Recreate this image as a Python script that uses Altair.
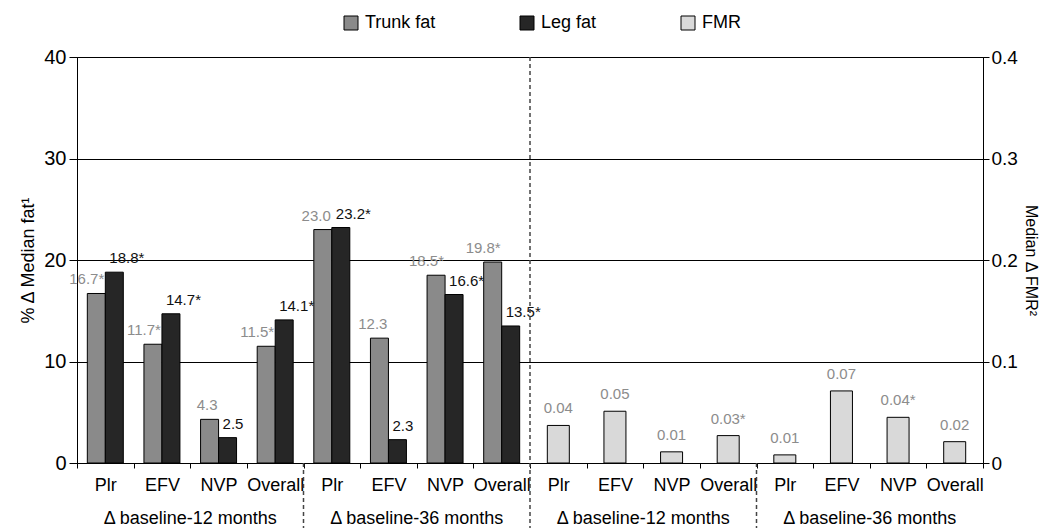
import json
import altair as alt
import pandas as pd

# ---------------- data ----------------
drugs = ["Plr", "EFV", "NVP", "Overall"]
periods = ["\u0394 baseline-12 months", "\u0394 baseline-36 months",
           "\u0394 baseline-12 months", "\u0394 baseline-36 months"]
series_names = ["Trunk fat", "Leg fat", "FMR"]
series_colors = ["#8a8a8a", "#262626", "#d9d9d9"]

trunk_vals = [16.7, 11.7, 4.3, 11.5, 23.0, 12.3, 18.5, 19.8]
trunk_labels = ["16.7*", "11.7*", "4.3", "11.5*", "23.0", "12.3", "18.5*", "19.8*"]
leg_vals = [18.8, 14.7, 2.5, 14.1, 23.2, 2.3, 16.6, 13.5]
leg_labels = ["18.8*", "14.7*", "2.5", "14.1*", "23.2*", "2.3", "16.6*", "13.5*"]
fmr_vals = [0.037, 0.051, 0.011, 0.027, 0.008, 0.071, 0.045, 0.021]
fmr_labels = ["0.04", "0.05", "0.01", "0.03*", "0.01", "0.07", "0.04*", "0.02"]

n_cat = 16
fat_rows = []
for i in range(8):
    fat_rows.append({"cat": i, "series": "Trunk fat", "value": trunk_vals[i], "label": trunk_labels[i]})
    fat_rows.append({"cat": i, "series": "Leg fat", "value": leg_vals[i], "label": leg_labels[i]})
fat_df = pd.DataFrame(fat_rows)
fmr_df = pd.DataFrame({"cat": list(range(8, 16)), "series": ["FMR"] * 8,
                       "value": fmr_vals, "label": fmr_labels})
group_df = pd.DataFrame({"cat": [1, 5, 9, 13], "text": periods})
sep_full_df = pd.DataFrame({"cat": [8]})
sep_low_df = pd.DataFrame({"cat": [4, 12]})

FONT = "Liberation Sans"
W, H = 906, 406

# ---------------- scales / axes ----------------
x_scale = alt.Scale(domain=list(range(n_cat)), paddingInner=0, paddingOuter=0)
x_axis = alt.Axis(title=None, labelExpr=f"{json.dumps(drugs)}[datum.value % 4]",
                  tickBand="extent", tickSize=5, labelFontSize=18, labelPadding=8,
                  labelAngle=0, domainColor="black", tickColor="black", labelColor="black")


def X(**kw):
    return alt.X("cat:O", scale=x_scale, axis=x_axis, **kw)


color = alt.Color("series:N", scale=alt.Scale(domain=series_names, range=series_colors),
                  legend=alt.Legend(title=None, orient="none", legendX=265, legendY=-43,
                                    direction="horizontal", symbolType="square",
                                    symbolSize=196, symbolStrokeColor="black",
                                    symbolStrokeWidth=1, labelFontSize=18,
                                    columnPadding=82, labelOffset=5, labelColor="black"))

axL = alt.Axis(values=[0, 10, 20, 30, 40], title="% \u0394 Median fat\u00b9", grid=True,
               gridColor="black", gridOpacity=1, labelFontSize=20, tickSize=8,
               titleFontSize=18, titlePadding=6, labelPadding=3, orient="left")
yL = alt.Y("value:Q", scale=alt.Scale(domain=[0, 40], nice=False), axis=axL)

axR = alt.Axis(values=[0, 0.1, 0.2, 0.3, 0.4], format=".1~f", title="Median \u0394 FMR\u00b2",
               titleAngle=90, grid=False, labelFontSize=19, tickSize=6,
               titleFontSize=16, titlePadding=5, labelPadding=2, orient="right")
yR = alt.Y("value:Q", scale=alt.Scale(domain=[0, 0.4], nice=False), axis=axR)

xoff = alt.XOffset("series:N", scale=alt.Scale(domain=["Trunk fat", "Leg fat"],
                                                paddingOuter=0.573, paddingInner=0))

# ---------------- layers ----------------
fat_bars = alt.Chart(fat_df).mark_bar(stroke="black", strokeWidth=1).encode(
    x=X(), xOffset=xoff, y=yL, color=color)

trunk_text = alt.Chart(fat_df).transform_filter("datum.series == 'Trunk fat'").mark_text(
    align="right", baseline="bottom", dx=8, dy=-6, fontSize=15, color="#8c8c8c"
).encode(x=X(), xOffset=xoff, y=yL, text="label:N")

leg_text = alt.Chart(fat_df).transform_filter("datum.series == 'Leg fat'").mark_text(
    align="left", baseline="bottom", dx=-5, dy=-6, fontSize=15, color="#111111"
).encode(x=X(), xOffset=xoff, y=yL, text="label:N")

fat_group = alt.layer(fat_bars, trunk_text, leg_text)

fmr_bars = alt.Chart(fmr_df).mark_bar(width=22, stroke="black", strokeWidth=1).encode(
    x=X(), y=yR, color=color)
fmr_text = alt.Chart(fmr_df).mark_text(
    align="center", baseline="bottom", dy=-9, fontSize=15, color="#8c8c8c"
).encode(x=X(), y=yR, text="label:N")
fmr_group = alt.layer(fmr_bars, fmr_text)

group_text = alt.Chart(group_df).mark_text(
    align="center", baseline="middle", fontSize=18, color="black"
).encode(x=X(bandPosition=1), y=alt.value(H + 56), text="text:N")

sep_full = alt.Chart(sep_full_df).mark_rule(strokeDash=[4, 3], color="#444444", strokeWidth=1.5).encode(
    x=X(bandPosition=0), y=alt.value(0), y2=alt.value(H + 67))
sep_low = alt.Chart(sep_low_df).mark_rule(strokeDash=[4, 3], color="#444444", strokeWidth=1.5).encode(
    x=X(bandPosition=0), y=alt.value(H), y2=alt.value(H + 67))

chart = alt.layer(fat_group, fmr_group, group_text, sep_full, sep_low).resolve_scale(
    y="independent"
).properties(
    width=W, height=H,
    autosize=alt.AutoSizeParams(type="none"),
    padding={"left": 69, "top": 49, "right": 58, "bottom": 65},
).configure(font=FONT).configure_view(stroke="black", strokeWidth=1).configure_axis(
    domainColor="black", tickColor="black", labelColor="black", titleColor="black",
    titleFontWeight="normal"
)

chart.save("out.html", embed_options={"renderer": "svg", "actions": False})
